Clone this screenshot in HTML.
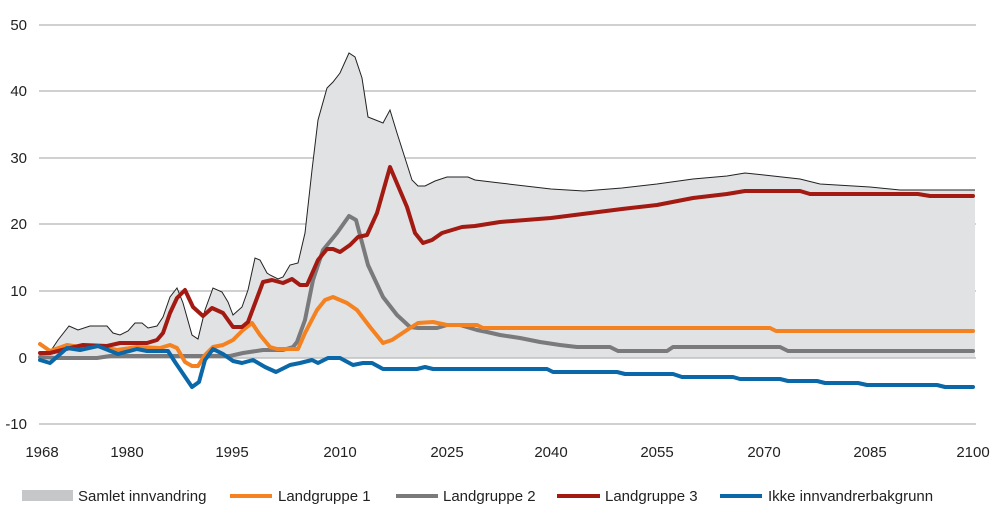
<!DOCTYPE html>
<html><head><meta charset="utf-8"><style>
body{margin:0;background:#fff;}
svg{display:block;font-family:"Liberation Sans",Arial,sans-serif;}
</style></head><body>
<svg width="1000" height="523" viewBox="0 0 1000 523">
<g stroke="#c0c0c0" stroke-width="1.5">
<line x1="39" x2="976" y1="25" y2="25"/><line x1="39" x2="976" y1="91" y2="91"/>
<line x1="39" x2="976" y1="158" y2="158"/><line x1="39" x2="976" y1="224" y2="224"/>
<line x1="39" x2="976" y1="291" y2="291"/><line x1="39" x2="976" y1="424" y2="424"/>
</g>
<g font-size="15" fill="#222" text-anchor="end">
<text x="27" y="30">50</text><text x="27" y="96">40</text><text x="27" y="163">30</text>
<text x="27" y="229">20</text><text x="27" y="296">10</text><text x="27" y="363">0</text><text x="27" y="429">-10</text>
</g>
<g font-size="15" fill="#222" text-anchor="middle">
<text x="42" y="457">1968</text><text x="127" y="457">1980</text><text x="232" y="457">1995</text>
<text x="340" y="457">2010</text><text x="447" y="457">2025</text><text x="551" y="457">2040</text>
<text x="657" y="457">2055</text><text x="764" y="457">2070</text><text x="870" y="457">2085</text><text x="973" y="457">2100</text>
</g>
<polygon fill="#e1e2e4" points="40,358 40,353 50,352 58,340 69,326 78,330 90,326 107,326 113,333 120,335 128,331 135,323 142,323 148,328 157,326 163,317 170,297 177,288 183,303 192,335 198,339 205,310 213,288 222,292 228,302 233,315 242,307 248,290 255,258 260,260 267,273 270,275 278,279 283,277 290,265 298,263 305,233 312,170 318,120 327,88 333,82 340,73 349,53 355,57 362,78 368,117 383,123 390,110 397,133 412,180 418,186 425,186 435,181 447,177 468,177 475,180 500,183 551,189 584,191 622,188 657,184 693,179 727,176 745,173 764,175 800,179 820,184 870,187 900,190 975,190 975,358"/>
<polyline fill="none" stroke="#222" stroke-width="1" points="40,353 50,352 58,340 69,326 78,330 90,326 107,326 113,333 120,335 128,331 135,323 142,323 148,328 157,326 163,317 170,297 177,288 183,303 192,335 198,339 205,310 213,288 222,292 228,302 233,315 242,307 248,290 255,258 260,260 267,273 270,275 278,279 283,277 290,265 298,263 305,233 312,170 318,120 327,88 333,82 340,73 349,53 355,57 362,78 368,117 383,123 390,110 397,133 412,180 418,186 425,186 435,181 447,177 468,177 475,180 500,183 551,189 584,191 622,188 657,184 693,179 727,176 745,173 764,175 800,179 820,184 870,187 900,190 975,190"/>
<line x1="39" x2="976" y1="358" y2="358" stroke="#c0c0c0" stroke-width="1.5"/>
<g fill="none" stroke-width="4" stroke-linejoin="round" stroke-linecap="round">
<polyline stroke="#7a7a7c" points="40,357 57,358 97,358 110,356 230,356 243,353 263,350 283,350 293,347 297,342 305,320 313,280 323,250 337,233 349,216 356,220 368,265 383,297 397,315 410,327 418,328 437,328 447,325 460,325 477,330 487,332 500,335 520,338 540,342 560,345 577,347 610,347 618,351 667,351 673,347 780,347 788,351 973,351"/>
<polyline stroke="#f58220" points="40,344 50,351 67,345 80,347 97,346 117,350 137,347 160,348 170,345 177,348 185,362 192,366 198,366 205,355 213,347 223,345 233,340 243,330 252,323 260,335 270,347 277,349 298,349 305,333 317,310 325,300 333,297 347,303 357,310 370,327 383,343 392,340 407,330 418,323 433,322 447,325 477,325 483,328 770,328 776,331 973,331"/>
<polyline stroke="#a31a12" points="40,353 50,353 70,348 83,345 107,346 120,343 147,343 157,340 163,333 170,313 177,298 185,290 193,307 203,316 212,308 223,313 233,327 242,327 248,322 257,298 263,282 272,280 283,283 292,279 300,285 307,285 318,260 327,249 333,249 340,252 350,245 358,237 367,235 377,213 390,167 407,207 415,233 423,243 432,240 442,233 462,227 475,226 500,222 551,218 622,209 657,205 693,198 727,194 745,191 800,191 810,194 918,194 930,196 973,196"/>
<polyline stroke="#0a68a8" points="40,360 50,363 67,348 80,350 98,346 118,354 137,349 147,351 168,351 175,362 192,387 199,382 205,360 213,349 223,354 233,361 242,363 253,360 265,367 276,372 290,365 300,363 312,360 318,363 328,358 340,358 353,365 363,363 372,363 383,369 417,369 425,367 433,369 547,369 553,372 617,372 625,374 673,374 682,377 733,377 740,379 780,379 788,381 817,381 825,383 858,383 867,385 937,385 945,387 973,387"/>
</g>
<rect x="22" y="490" width="51" height="11" fill="#c6c7c9"/>
<g stroke-width="4">
<line x1="230" x2="272" y1="496" y2="496" stroke="#f58220"/>
<line x1="396" x2="438" y1="496" y2="496" stroke="#7a7a7c"/>
<line x1="557" x2="600" y1="496" y2="496" stroke="#a31a12"/>
<line x1="720" x2="762" y1="496" y2="496" stroke="#0a68a8"/>
</g>
<g font-size="15" fill="#222">
<text x="78" y="501">Samlet innvandring</text><text x="278" y="501">Landgruppe 1</text>
<text x="443" y="501">Landgruppe 2</text><text x="605" y="501">Landgruppe 3</text>
<text x="768" y="501">Ikke innvandrerbakgrunn</text>
</g>
</svg>
</body></html>
